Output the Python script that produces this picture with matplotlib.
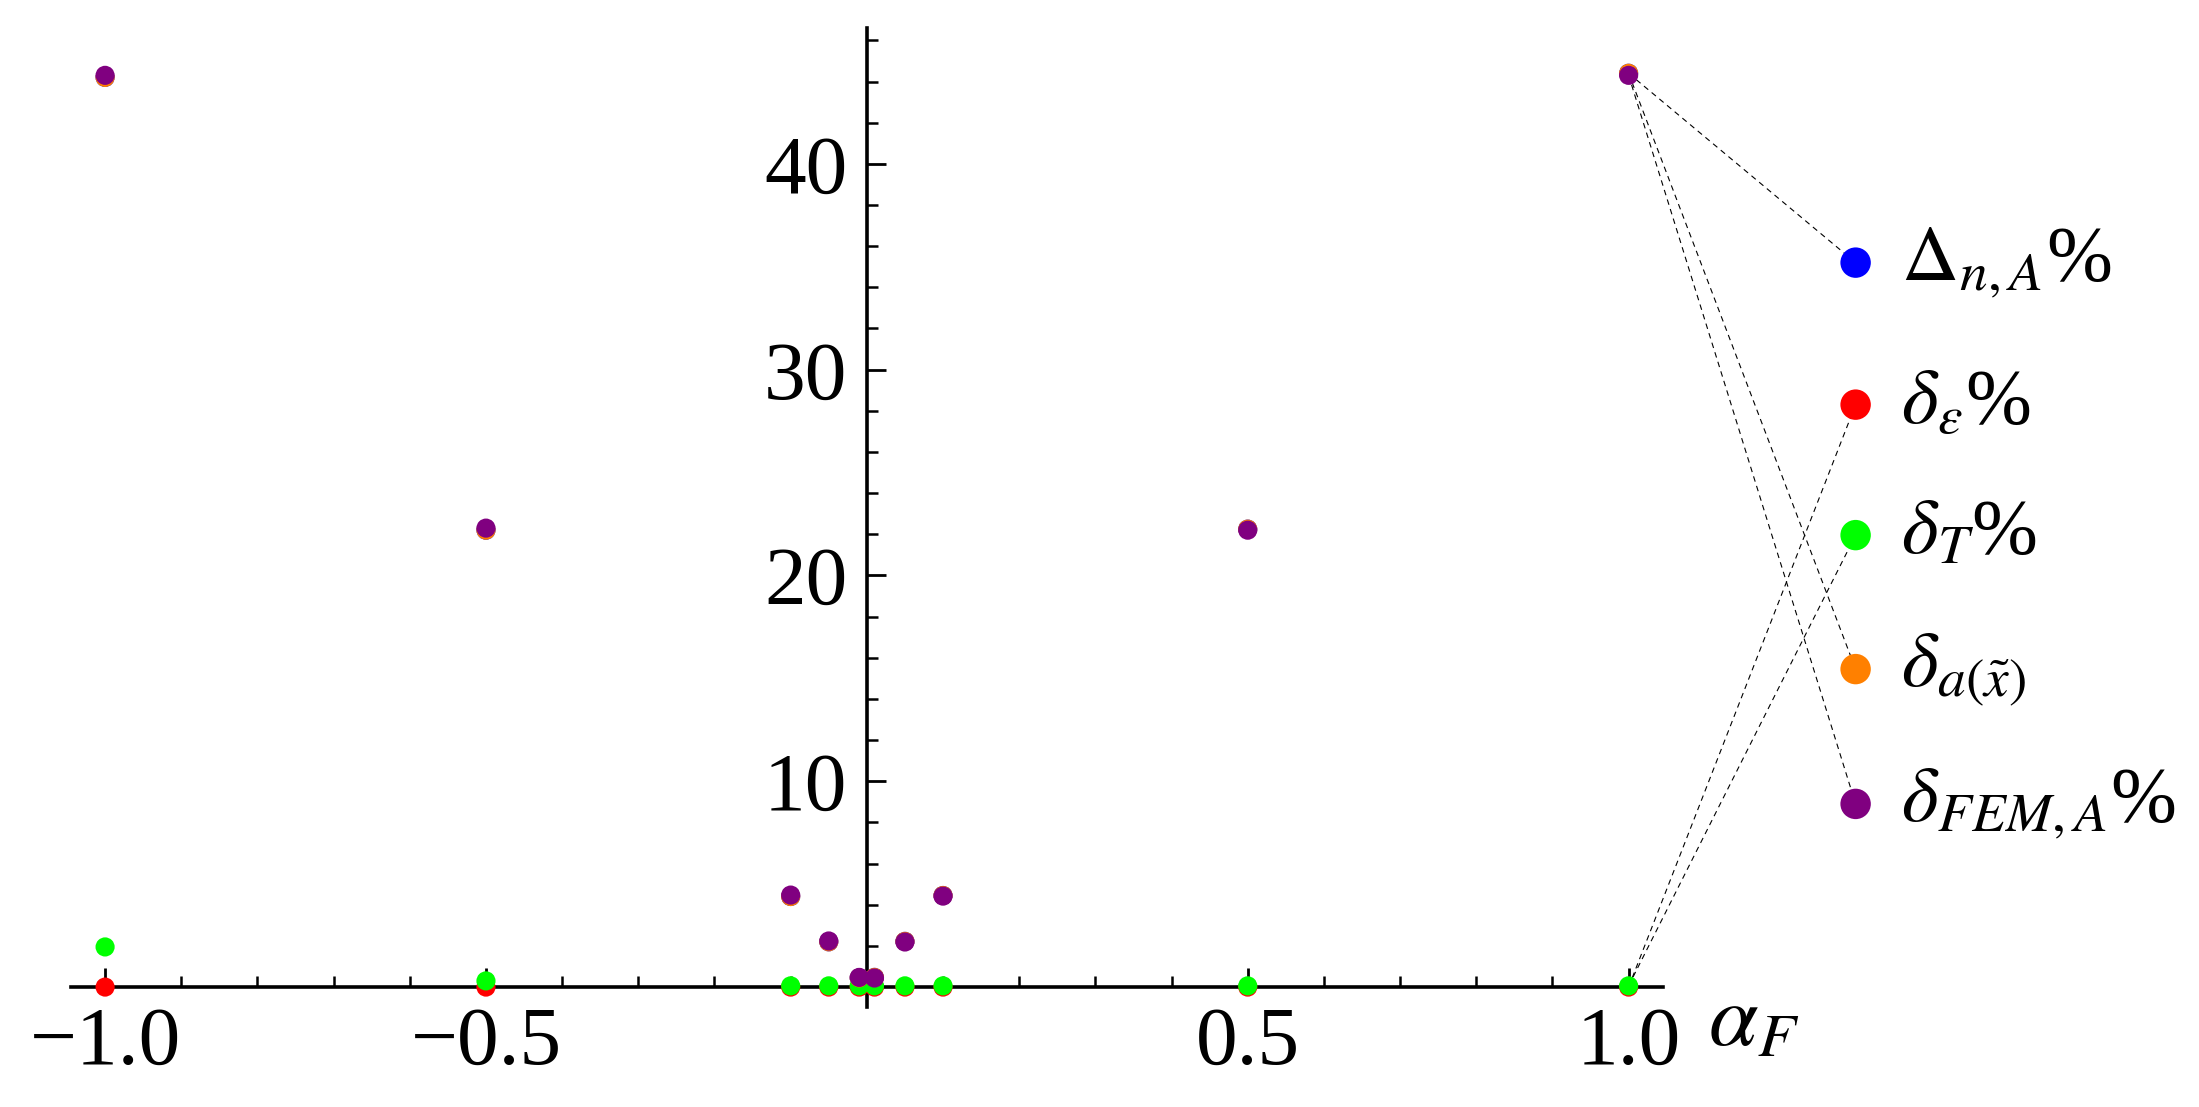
import matplotlib as mpl
mpl.use('Agg')
from matplotlib import pyplot as plt
import numpy as np

plt.rcParams['font.family'] = ['Liberation Serif', 'DejaVu Serif']
plt.rcParams['mathtext.fontset'] = 'stix'

# data
alpha_F = [-1.0, -0.5, -0.1, -0.05, -0.01, 0.01, 0.05, 0.1, 0.5, 1.0]

Delta_nA = [44.2, 22.2, 4.4, 2.2, 0.45, 0.47, 2.22, 4.45, 22.25, 44.4]
delta_eps = [0.0, 0.0, 0.0, 0.0, 0.0, 0.0, 0.0, 0.0, 0.0, 0.0]
delta_T = [1.95, 0.3, 0.06, 0.06, 0.06, 0.06, 0.06, 0.06, 0.06, 0.06]
delta_a = [44.2, 22.2, 4.4, 2.2, 0.45, 0.47, 2.22, 4.45, 22.25, 44.4]
delta_FEM = [44.3, 22.3, 4.47, 2.24, 0.47, 0.44, 2.19, 4.42, 22.2, 44.3]

labels = [r'$\Delta_{n,A}$%', r'$\delta_{\varepsilon}$%', r'$\delta_{T}$%',
          r'$\delta_{a(\tilde{x})}$', r'$\delta_{FEM,A}$%']
colors = ['#0000ff', '#ff0000', '#00ff00', '#ff8000', '#800080']
series = [Delta_nA, delta_eps, delta_T, delta_a, delta_FEM]

# legend marker positions (data coords, outside the axes)
leg_x = 1.298
leg_y = [35.2, 28.3, 21.96, 15.45, 8.9]

fig = plt.figure(figsize=(21.99, 11.07), dpi=100)
ax = fig.add_axes([0.0322, 0.0903, 0.724, 0.8844])

for s, c in zip(series, colors):
    ax.scatter(alpha_F, s, s=190, c=c, edgecolors='none', zorder=3, clip_on=False)

# callouts from the last point to legend markers
for s, c, ly, lab in zip(series, colors, leg_y, labels):
    ax.plot([alpha_F[-1], leg_x], [s[-1], ly], color='k', lw=0.8,
            dashes=(5, 4), clip_on=False, zorder=2)
    ax.scatter([leg_x], [ly], s=480, c=c, edgecolors='none', clip_on=False, zorder=4)
    ax.text(leg_x + 0.06, ly, lab, fontsize=57, va='center', ha='left')

ax.set_xlim(-1.045, 1.045)
ax.set_ylim(-0.97, 46.6)

for side in ['top', 'right']:
    ax.spines[side].set_visible(False)
ax.spines['left'].set_position(('data', 0))
ax.spines['bottom'].set_position(('data', 0))
ax.spines['left'].set_linewidth(2.6)
ax.spines['bottom'].set_linewidth(2.6)

ax.set_xticks([-1.0, -0.5, 0.5, 1.0])
ax.set_xticklabels(['\u22121.0', '\u22120.5', '0.5', '1.0'])
minor_x = [v / 10 for v in range(-10, 11) if v not in (-10, -5, 0, 5, 10)]
ax.set_xticks(minor_x, minor=True)

ax.set_yticks([10, 20, 30, 40])
ax.set_yticklabels(['10', '20', '30', '40'])
ax.set_yticks([v for v in range(2, 47, 2) if v % 10 != 0], minor=True)

ax.tick_params(axis='both', which='major', direction='in', length=14, width=2,
               labelsize=60)
ax.tick_params(axis='both', which='minor', direction='in', length=8, width=1.8)
ax.tick_params(axis='x', which='major', pad=14)
ax.tick_params(axis='y', which='major', pad=14)

ax.text(1.104, 0.2, r'$\alpha_F$', fontsize=64, va='top', ha='left')

plt.savefig('out.png', dpi=100)
plt.close()
